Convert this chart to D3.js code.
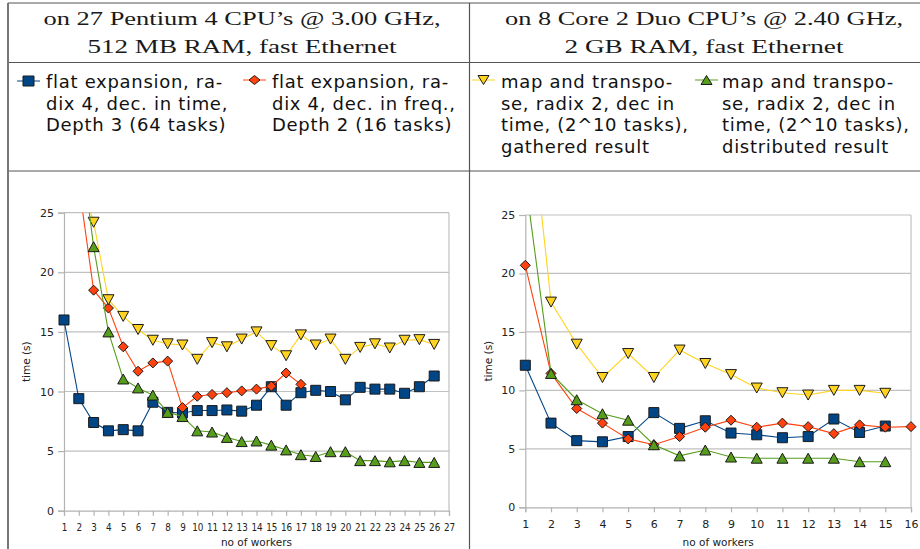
<!DOCTYPE html>
<html>
<head>
<meta charset="utf-8">
<script src="https://cdn.jsdelivr.net/npm/d3@7"></script>
<style>
  body { margin: 0; background: #fff; }
  svg { display: block; background: #fff; }
</style>
</head>
<body>
<svg></svg>
<script>
// ---- data ----
// worker counts on the x axis
const leftWorkers = [1, 2, 3, 4, 5, 6, 7, 8, 9, 10, 11, 12, 13, 14, 15, 16, 17, 18, 19, 20, 21, 22, 23, 24, 25, 26];
const rightWorkers = [1, 2, 3, 4, 5, 6, 7, 8, 9, 10, 11, 12, 13, 14, 15, 16];

// left chart (27 Pentium 4), time in seconds, null = no point
const leftFlatTime = [16.0, 9.4, 7.4, 6.7, 6.8, 6.7, 9.1, 8.25, 8.2, 8.4, 8.4, 8.45, 8.35, 8.85, 10.4, 8.85, 9.9, 10.1, 10.0, 9.3, 10.35, 10.2, 10.2, 9.85, 10.4, 11.3];
const leftFlatFreq = [null, 27.4, 18.5, 17.0, 13.75, 11.7, 12.4, 12.55, 8.65, 9.6, 9.75, 9.9, 10.05, 10.2, 10.45, 11.55, 10.6];
const leftGathered = [null, 28.3, 24.2, 17.7, 16.3, 15.2, 14.3, 14.0, 13.9, 12.7, 14.1, 13.75, 14.4, 15.0, 13.85, 13.0, 14.75, 13.9, 14.4, 12.7, 13.7, 14.0, 13.65, 14.3, 14.35, 13.95];
const leftDistributed = [null, 32.0, 22.15, 15.0, 11.05, 10.3, 9.7, 8.25, 7.9, 6.7, 6.6, 6.15, 5.8, 5.85, 5.5, 5.1, 4.7, 4.55, 4.95, 4.95, 4.2, 4.2, 4.1, 4.2, 4.05, 4.05];

// right chart (8 Core 2 Duo)
const rightFlatTime = [12.15, 7.2, 5.7, 5.6, 6.05, 8.1, 6.75, 7.4, 6.35, 6.2, 5.95, 6.05, 7.55, 6.4, 6.95];
const rightFlatFreq = [20.7, 11.45, 8.45, 7.2, 5.85, 5.35, 6.05, 6.85, 7.45, 6.85, 7.2, 6.9, 6.3, 7.05, 6.85, 6.9];
const rightGathered = [38.0, 17.55, 13.95, 11.1, 13.15, 11.1, 13.45, 12.3, 11.35, 10.2, 9.8, 9.6, 10.0, 10.0, 9.75];
const rightDistributed = [28.0, 11.45, 9.2, 8.0, 7.45, 5.35, 4.4, 4.9, 4.3, 4.2, 4.2, 4.2, 4.2, 3.9, 3.9];

const yTicks = [0, 5, 10, 15, 20, 25];
const leftXTicks = [1, 2, 3, 4, 5, 6, 7, 8, 9, 10, 11, 12, 13, 14, 15, 16, 17, 18, 19, 20, 21, 22, 23, 24, 25, 26, 27];
const rightXTicks = [1, 2, 3, 4, 5, 6, 7, 8, 9, 10, 11, 12, 13, 14, 15, 16];

const headerLeft = ["on 27 Pentium 4 CPU\u2019s @ 3.00 GHz,", "512 MB RAM, fast Ethernet"];
const headerRight = ["on 8 Core 2 Duo CPU\u2019s @ 2.40 GHz,", "2 GB RAM, fast Ethernet"];

const legendLabels = [
    ["flat expansion, ra-", "dix 4, dec. in time,", "Depth 3 (64 tasks)"],
    ["flat expansion, ra-", "dix 4, dec. in freq.,", "Depth 2 (16 tasks)"],
    ["map and transpo-", "se, radix 2, dec in", "time, (2^10 tasks),", "gathered result"],
    ["map and transpo-", "se, radix 2, dec in", "time, (2^10 tasks),", "distributed result"]
];

// one style per series (same order as legend)
const seriesStyle = [
    {color: '#004586', marker: 'square'},
    {color: '#ff420e', marker: 'diamond'},
    {color: '#ffd320', marker: 'down'},
    {color: '#579d1c', marker: 'up'}
];

const size = {w: 920, h: 549};
const svg = d3.select('svg')
    .attr('width', size.w)
    .attr('height', size.h);

const sans = 'DejaVu Sans, Verdana, sans-serif';
const serif = 'Liberation Serif, DejaVu Serif, serif';

// marker outline centred on 0,0
function markerPath(type, w, h) {
    let a = w / 2, b = h / 2;
    if (type === 'square') return `M${-a},${-b}H${a}V${b}H${-a}Z`;
    if (type === 'diamond') return `M0,${-b}L${a},0L0,${b}L${-a},0Z`;
    if (type === 'down') return `M${-a},${-b}L${a},${-b}L0,${b}Z`;
    return `M0,${-b}L${a},${b}L${-a},${b}Z`;
}

// ---- table frame ----
const frame = svg.append('g').attr('class', 'frame');
const tableLines = [
    [8, 3, 940, 3], [8, 62.5, 940, 62.5], [8, 171, 940, 171],
    [469.5, 3, 469.5, 549]
];
frame.selectAll('line.rule')
    .data(tableLines)
    .enter()
    .append('line')
    .attr('x1', d => d[0]).attr('y1', d => d[1])
    .attr('x2', d => d[2]).attr('y2', d => d[3])
    .attr('stroke', '#555')
    .attr('stroke-width', 1.2);
frame.append('line')
    .attr('x1', 8).attr('x2', 8).attr('y1', 3).attr('y2', 549)
    .attr('stroke', '#777').attr('stroke-width', 2);

// ---- header ----
// the typeset header is wider than the installed serif, so stretch it to width
function drawHeader(lines, cx, widths) {
    svg.append('g').selectAll('text')
        .data(lines)
        .enter()
        .append('text')
        .attr('x', cx)
        .attr('y', (d, i) => 25 + i * 28.3)
        .attr('text-anchor', 'middle')
        .attr('textLength', (d, i) => widths[i])
        .attr('lengthAdjust', 'spacingAndGlyphs')
        .style('font-family', serif)
        .style('font-size', '18px')
        .attr('fill', '#1a1a1a')
        .text(d => d);
}
drawHeader(headerLeft, 242, [397, 309]);
drawHeader(headerRight, 704, [398, 279]);

// ---- legend ----
const legendPos = [
    {lx: 17, tx: 46, my: 81},
    {lx: 243, tx: 272, my: 80},
    {lx: 472, tx: 501, my: 80},
    {lx: 695, tx: 722, my: 80}
];
legendLabels.forEach(function (lines, i) {
    let st = seriesStyle[i];
    let p = legendPos[i];
    let g = svg.append('g').attr('class', 'legend');
    g.append('line')
        .attr('x1', p.lx).attr('x2', p.lx + 23)
        .attr('y1', p.my).attr('y2', p.my)
        .attr('stroke', st.color).attr('stroke-width', 1);
    g.append('path')
        .attr('d', markerPath(st.marker, 11, st.marker === 'square' ? 10 : 9))
        .attr('transform', `translate(${p.lx + 11.5},${p.my})`)
        .attr('fill', st.color)
        .attr('stroke', '#1a1a1a').attr('stroke-width', 1);
    g.selectAll('text')
        .data(lines)
        .enter()
        .append('text')
        .attr('x', p.tx)
        .attr('y', (d, j) => 88.3 + j * 21.5)
        .style('font-family', sans)
        .style('font-size', '18px')
        .style('letter-spacing', '0.7px')
        .attr('fill', '#111')
        .text(d => d);
});

// ---- charts ----
function drawChart(opts) {
    let g = svg.append('g').attr('class', 'chart');
    let x = d3.scaleLinear().domain([1, opts.xMax]).range([opts.left, opts.right]);
    let y = d3.scaleLinear().domain([0, 25]).range([opts.bottom, opts.top]);

    // horizontal grid lines
    g.selectAll('line.grid')
        .data(yTicks.slice(1))
        .enter()
        .append('line')
        .attr('x1', opts.left).attr('x2', opts.right)
        .attr('y1', d => y(d)).attr('y2', d => y(d))
        .attr('stroke', '#c0c0c0').attr('stroke-width', 1.2);
    // right frame
    g.append('line')
        .attr('x1', opts.right).attr('x2', opts.right)
        .attr('y1', opts.top).attr('y2', opts.bottom)
        .attr('stroke', '#c0c0c0').attr('stroke-width', 1.2);

    let yAxis = g.append('g')
        .attr('transform', `translate(${opts.left},0)`)
        .call(d3.axisLeft(y).tickValues(yTicks).tickSize(6).tickPadding(4));
    let xAxis = g.append('g')
        .attr('transform', `translate(0,${opts.bottom})`)
        .call(d3.axisBottom(x).tickValues(opts.xTicks).tickSize(5).tickPadding(opts.xPad));
    [yAxis, xAxis].forEach(function (ax) {
        ax.select('.domain').attr('stroke', '#b3b3b3').attr('stroke-width', 1.2);
        ax.selectAll('.tick line').attr('stroke', '#b3b3b3').attr('stroke-width', 1.2);
        ax.selectAll('.tick text')
            .attr('fill', '#222')
            .style('font-family', sans)
            .style('font-size', '11px');
    });
    // left chart tick labels are squeezed horizontally
    xAxis.selectAll('.tick text').attr('transform', `scale(${opts.xLabelScale},1)`);

    // axis titles
    g.append('text')
        .attr('x', (opts.left + opts.right) / 2)
        .attr('y', 545.5)
        .attr('text-anchor', 'middle')
        .style('font-family', sans).style('font-size', '10.5px')
        .attr('fill', '#222')
        .text('no of workers');
    g.append('text')
        .attr('transform', `translate(${opts.titleX},${(opts.top + opts.bottom) / 2}) rotate(-90)`)
        .attr('text-anchor', 'middle')
        .style('font-family', sans).style('font-size', '10.5px')
        .attr('fill', '#222')
        .text('time (s)');

    // clip series to the plot area (top edge)
    let clipId = 'clip' + opts.id;
    g.append('clipPath').attr('id', clipId)
        .append('rect')
        .attr('x', opts.left - 12).attr('y', opts.top)
        .attr('width', opts.right - opts.left + 24)
        .attr('height', opts.bottom - opts.top + 12);

    let plot = g.append('g').attr('clip-path', `url(#${clipId})`);
    let line = d3.line()
        .defined(d => d.v !== null)
        .x(d => x(d.n))
        .y(d => y(d.v));

    opts.series.forEach(function (vals, i) {
        let st = seriesStyle[i];
        let pts = vals.map((v, k) => ({n: opts.workers[k], v: v}));
        plot.append('path')
            .datum(pts)
            .attr('d', line)
            .attr('fill', 'none')
            .attr('stroke', st.color)
            .attr('stroke-width', 1.1);
        plot.selectAll('path.m' + i)
            .data(pts.filter(d => d.v !== null))
            .enter()
            .append('path')
            .attr('class', 'm' + i)
            .attr('d', markerPath(st.marker, st.marker === 'down' || st.marker === 'up' ? 11 : 10, 10))
            .attr('transform', d => `translate(${x(d.n)},${y(d.v)})`)
            .attr('fill', st.color)
            .attr('stroke', '#1a1a1a')
            .attr('stroke-width', 1);
    });
}

drawChart({
    id: 'L', left: 64, right: 449, top: 212.7, bottom: 510.7,
    xMax: 27, xTicks: leftXTicks, xPad: 7, xLabelScale: 0.8, titleX: 30,
    workers: leftWorkers,
    series: [leftFlatTime, leftFlatFreq, leftGathered, leftDistributed]
});
drawChart({
    id: 'R', left: 525.3, right: 911, top: 215, bottom: 507.3,
    xMax: 16, xTicks: rightXTicks, xPad: 8, xLabelScale: 1, titleX: 492,
    workers: rightWorkers,
    series: [rightFlatTime, rightFlatFreq, rightGathered, rightDistributed]
});
</script>
</body>
</html>
